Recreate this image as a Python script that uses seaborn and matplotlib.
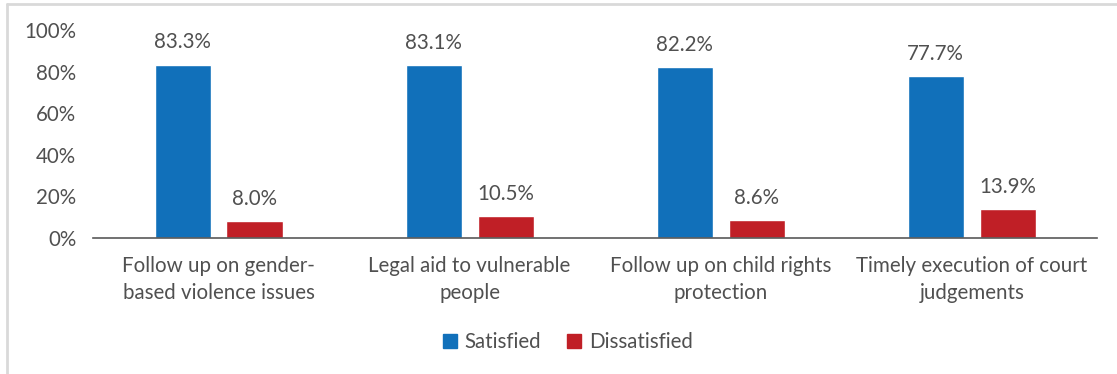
import matplotlib
matplotlib.use("Agg")
import matplotlib.pyplot as plt
import matplotlib.ticker as mtick
from matplotlib.lines import Line2D
import pandas as pd
import seaborn as sns

# Data
categories = [
    "Follow up on gender-\nbased violence issues",
    "Legal aid to vulnerable\npeople",
    "Follow up on child rights\nprotection",
    "Timely execution of court\njudgements",
]
satisfied = [83.3, 83.1, 82.2, 77.7]
dissatisfied = [8.0, 10.5, 8.6, 13.9]
series = ["Satisfied", "Dissatisfied"]
colors = ["#1170BA", "#C01F26"]

df = pd.DataFrame({
    "Category": categories * 2,
    "Value": satisfied + dissatisfied,
    "Group": [series[0]] * 4 + [series[1]] * 4,
})

sns.set_style("white")
plt.rcParams["font.family"] = ["Lato", "DejaVu Sans"]
text_color = "#505050"
fs = 14.8

fig = plt.figure(figsize=(11.17, 3.74), dpi=100)
ax = fig.add_axes([0.0833, 0.3636, 0.899, 0.5562])

sns.barplot(data=df, x="Category", y="Value", hue="Group", order=categories,
            hue_order=series, palette=colors, width=0.573, gap=0.22,
            saturation=1, ax=ax, legend=False)

for cont in ax.containers:
    ax.bar_label(cont, labels=[f"{v:.1f}%" for v in cont.datavalues],
                 padding=9, fontsize=fs, color=text_color)

ax.set_ylim(0, 100)
ax.set_xlim(-0.5, 3.5)
ax.yaxis.set_major_locator(mtick.MultipleLocator(20))
ax.yaxis.set_major_formatter(mtick.PercentFormatter(decimals=0))
ax.set_xlabel("")
ax.set_ylabel("")
for s in ["top", "right", "left"]:
    ax.spines[s].set_visible(False)
ax.spines["bottom"].set_color("#595959")
ax.spines["bottom"].set_linewidth(1.2)
ax.tick_params(axis="both", length=0, labelsize=fs, labelcolor=text_color)
ax.tick_params(axis="y", pad=12)
ax.tick_params(axis="x", pad=13)
for lab in ax.get_xticklabels():
    lab.set_linespacing(1.45)

handles = [Line2D([], [], marker="s", linestyle="", markersize=10,
                  markerfacecolor=c, markeredgecolor=c) for c in colors]
leg = fig.legend(handles, series, loc="center", bbox_to_anchor=(0.508, 0.085),
                 ncol=2, frameon=False, fontsize=fs, handlelength=0.8,
                 handletextpad=0.3, columnspacing=1.2)
for t in leg.get_texts():
    t.set_color(text_color)

# light frame around the chart area
fig.add_artist(Line2D([0.006, 1.0], [0.989, 0.989], color="#D9D9D9", lw=2,
                      transform=fig.transFigure))
fig.add_artist(Line2D([0.006, 0.006], [0.0, 0.989], color="#D9D9D9", lw=2,
                      transform=fig.transFigure))

fig.savefig("out.png", dpi=100)
